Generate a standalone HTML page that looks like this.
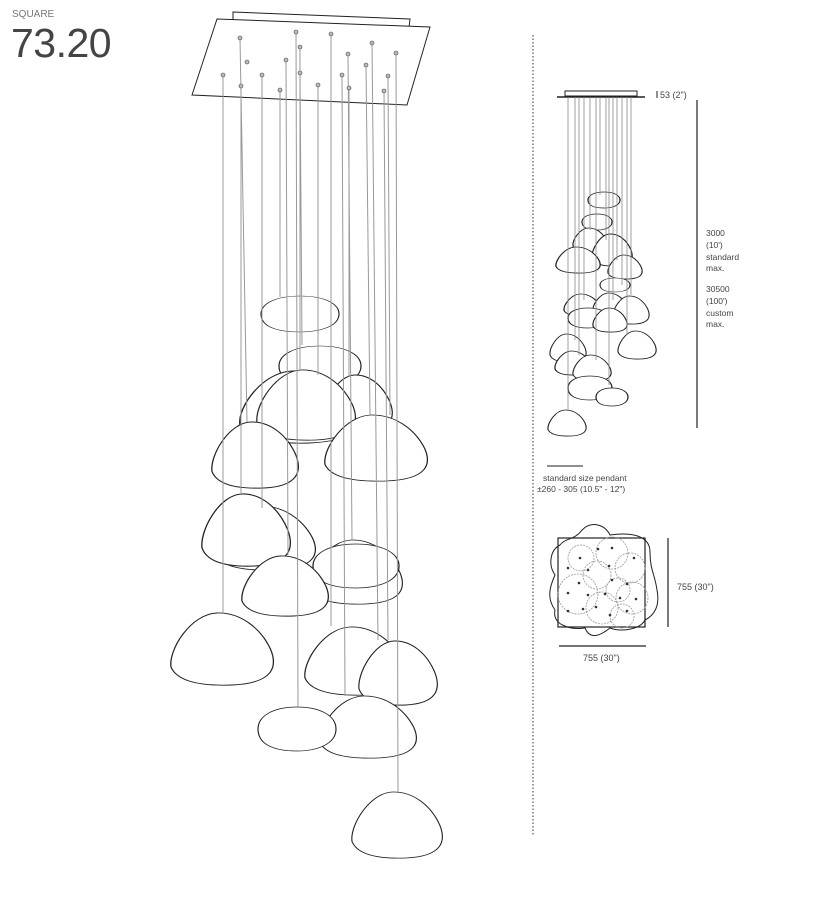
<!DOCTYPE html>
<html><head><meta charset="utf-8"><style>
html,body{margin:0;padding:0;background:#fff;}
svg{display:block;font-family:"Liberation Sans",sans-serif;}
</style></head><body>
<svg width="826" height="904" viewBox="0 0 826 904" xmlns="http://www.w3.org/2000/svg">
<defs>
<path id="tri" d="M-0.1,-1 C0.35,-1.02 0.75,-0.6 0.95,0 C1.1,0.5 1,0.95 0.2,1 C-0.2,1.02 -0.85,1 -1,0.5 C-1.05,0 -0.6,-0.98 -0.1,-1Z"/>
<path id="flat" d="M0,-1 C0.6,-1 1,-0.6 1,0 C1,0.7 0.5,1 0,1 C-0.6,1 -1,0.7 -1,0 C-1,-0.6 -0.6,-1 0,-1Z"/>
</defs>
<text x="12" y="17" font-size="10" fill="#777">SQUARE</text>
<text x="11" y="57" font-size="41" fill="#444" style="letter-spacing:-0.5px">73.20</text>

<!-- canopy -->
<g stroke="#222" fill="#fff" stroke-width="1">
<polygon points="233,12 410,19 409,27 233,20"/>
<polygon points="217,19 430,27 407,105 192,95"/>
</g>
<!-- pendants -->
<g stroke="#222" fill="#fff">
<use href="#flat" transform="translate(300,314) scale(39,18)" style="stroke-width:0.03"/>
<use href="#flat" transform="translate(320,366) scale(41,20)" style="stroke-width:0.03"/>
<use href="#tri" transform="translate(298,407) scale(58,36)" style="stroke-width:0.025"/>
<use href="#tri" transform="translate(358,403) scale(34,28)" style="stroke-width:0.035"/>
<use href="#tri" transform="translate(306,405) scale(49,35)" style="stroke-width:0.025"/>
<use href="#tri" transform="translate(255,455) scale(43,33)" style="stroke-width:0.03"/>
<use href="#tri" transform="translate(376,448) scale(51,33)" style="stroke-width:0.025"/>
<use href="#tri" transform="translate(265,538) scale(50,32)" style="stroke-width:0.025"/>
<use href="#tri" transform="translate(246,530) scale(44,36)" style="stroke-width:0.03"/>
<use href="#tri" transform="translate(356,572) scale(46,32)" style="stroke-width:0.025"/>
<use href="#flat" transform="translate(356,566) scale(43,22)" style="stroke-width:0.03"/>
<use href="#tri" transform="translate(285,586) scale(43,30)" style="stroke-width:0.03"/>
<use href="#tri" transform="translate(222,649) scale(51,36)" style="stroke-width:0.025"/>
<use href="#tri" transform="translate(355,661) scale(50,34)" style="stroke-width:0.025"/>
<use href="#tri" transform="translate(398,673) scale(39,32)" style="stroke-width:0.03"/>
<use href="#tri" transform="translate(368,727) scale(48,31)" style="stroke-width:0.025"/>
<use href="#flat" transform="translate(297,729) scale(39,22)" style="stroke-width:0.03"/>
<use href="#tri" transform="translate(397,825) scale(45,33)" style="stroke-width:0.025"/>
</g>
<!-- wires -->
<g stroke="#999" stroke-width="1">
<line x1="223" y1="75" x2="223" y2="614"/>
<line x1="241" y1="86" x2="241" y2="494"/>
<line x1="240" y1="38" x2="247" y2="422"/>
<line x1="262" y1="75" x2="262" y2="508"/>
<line x1="280" y1="90" x2="280" y2="297"/>
<line x1="286" y1="60" x2="288" y2="555"/>
<line x1="296" y1="32" x2="298" y2="707"/>
<line x1="300" y1="47" x2="300" y2="370"/>
<line x1="300" y1="73" x2="302" y2="345"/>
<line x1="318" y1="85" x2="318" y2="375"/>
<line x1="331" y1="34" x2="331" y2="626"/>
<line x1="342" y1="75" x2="345" y2="696"/>
<line x1="348" y1="54" x2="352" y2="540"/>
<line x1="349" y1="88" x2="349" y2="377"/>
<line x1="366" y1="65" x2="370" y2="415"/>
<line x1="372" y1="43" x2="378" y2="640"/>
<line x1="384" y1="91" x2="388" y2="640"/>
<line x1="388" y1="76" x2="390" y2="415"/>
<line x1="396" y1="53" x2="398" y2="792"/>
</g>
<g fill="#bbb" stroke="#444" stroke-width="0.6">
<circle cx="240" cy="38" r="2"/><circle cx="296" cy="32" r="2"/><circle cx="331" cy="34" r="2"/><circle cx="372" cy="43" r="2"/><circle cx="348" cy="54" r="2"/><circle cx="300" cy="47" r="2"/><circle cx="247" cy="62" r="2"/><circle cx="286" cy="60" r="2"/><circle cx="396" cy="53" r="2"/><circle cx="223" cy="75" r="2"/><circle cx="262" cy="75" r="2"/><circle cx="342" cy="75" r="2"/><circle cx="366" cy="65" r="2"/><circle cx="388" cy="76" r="2"/><circle cx="241" cy="86" r="2"/><circle cx="280" cy="90" r="2"/><circle cx="318" cy="85" r="2"/><circle cx="349" cy="88" r="2"/><circle cx="384" cy="91" r="2"/><circle cx="300" cy="73" r="2"/>
</g>

<!-- dotted separator -->
<line x1="533" y1="35" x2="533" y2="836" stroke="#555" stroke-width="1.2" stroke-dasharray="1.5,2"/>

<!-- elevation -->
<rect x="565" y="91" width="72" height="5" fill="#fff" stroke="#222" stroke-width="1"/>
<line x1="557" y1="97" x2="645" y2="97" stroke="#222" stroke-width="1.5"/>
<g stroke="#222" fill="#fff">
<use href="#flat" transform="translate(604,200) scale(16,8)" style="stroke-width:0.08"/>
<use href="#flat" transform="translate(597,222) scale(15,8)" style="stroke-width:0.08"/>
<use href="#tri" transform="translate(590,240) scale(17,12)" style="stroke-width:0.07"/>
<use href="#tri" transform="translate(612,250) scale(20,16)" style="stroke-width:0.06"/>
<use href="#tri" transform="translate(578,260) scale(22,13)" style="stroke-width:0.06"/>
<use href="#tri" transform="translate(625,267) scale(17,12)" style="stroke-width:0.07"/>
<use href="#flat" transform="translate(615,285) scale(15,7)" style="stroke-width:0.08"/>
<use href="#tri" transform="translate(582,305) scale(18,11)" style="stroke-width:0.07"/>
<use href="#tri" transform="translate(610,305) scale(17,12)" style="stroke-width:0.07"/>
<use href="#tri" transform="translate(631,310) scale(18,14)" style="stroke-width:0.06"/>
<use href="#flat" transform="translate(588,318) scale(20,10)" style="stroke-width:0.07"/>
<use href="#tri" transform="translate(610,320) scale(17,12)" style="stroke-width:0.07"/>
<use href="#tri" transform="translate(637,345) scale(19,14)" style="stroke-width:0.06"/>
<use href="#tri" transform="translate(568,348) scale(18,14)" style="stroke-width:0.06"/>
<use href="#tri" transform="translate(573,363) scale(18,12)" style="stroke-width:0.07"/>
<use href="#tri" transform="translate(592,368) scale(19,13)" style="stroke-width:0.06"/>
<use href="#flat" transform="translate(590,388) scale(22,12)" style="stroke-width:0.06"/>
<use href="#flat" transform="translate(612,397) scale(16,9)" style="stroke-width:0.08"/>
<use href="#tri" transform="translate(567,423) scale(19,13)" style="stroke-width:0.06"/>
</g>
<g stroke="#888" stroke-width="0.8">
<line x1="568" y1="97" x2="568" y2="410"/><line x1="575" y1="97" x2="575" y2="340"/><line x1="579" y1="97" x2="579" y2="355"/><line x1="584" y1="97" x2="584" y2="300"/><line x1="590" y1="97" x2="590" y2="230"/><line x1="596" y1="97" x2="596" y2="360"/><line x1="600" y1="97" x2="600" y2="195"/><line x1="606" y1="97" x2="606" y2="240"/><line x1="609" y1="97" x2="609" y2="385"/><line x1="613" y1="97" x2="613" y2="300"/><line x1="617" y1="97" x2="617" y2="260"/><line x1="622" y1="97" x2="622" y2="285"/><line x1="627" y1="97" x2="627" y2="335"/><line x1="631" y1="97" x2="631" y2="295"/>
</g>
<line x1="657" y1="91" x2="657" y2="98" stroke="#222"/>
<text x="660" y="98" font-size="9" fill="#444">53 (2")</text>
<line x1="697" y1="100" x2="697" y2="428" stroke="#222" stroke-width="1.2"/>
<g font-size="8.5" fill="#444">
<text x="706" y="236">3000</text><text x="706" y="248">(10')</text><text x="706" y="260">standard</text><text x="706" y="271">max.</text>
<text x="706" y="292">30500</text><text x="706" y="304">(100')</text><text x="706" y="316">custom</text><text x="706" y="327">max.</text>
</g>
<line x1="547" y1="466" x2="583" y2="466" stroke="#222"/>
<text x="543" y="481" font-size="8.5" fill="#444">standard size pendant</text>
<text x="537" y="492" font-size="8.5" fill="#444">±260 - 305 (10.5" - 12")</text>

<!-- plan -->
<path d="M582,530 C592,520 605,525 610,535 C630,532 650,535 650,552 C650,570 655,575 657,590 C660,605 655,615 645,620 C640,630 620,632 610,628 C600,636 590,640 585,628 C570,630 552,625 555,610 C548,600 548,590 555,575 C548,565 550,550 560,545 C565,538 575,540 582,530Z" fill="none" stroke="#222" stroke-width="1"/>
<rect x="558" y="538" width="87" height="89" fill="none" stroke="#222" stroke-width="1.2"/>
<g fill="none" stroke="#999" stroke-width="0.8" stroke-dasharray="2,1">
<circle cx="581" cy="558" r="13"/><circle cx="612" cy="553" r="16"/><circle cx="630" cy="568" r="15"/><circle cx="578" cy="594" r="20"/><circle cx="597" cy="575" r="14"/><circle cx="602" cy="608" r="16"/><circle cx="618" cy="590" r="12"/><circle cx="632" cy="598" r="16"/><circle cx="622" cy="616" r="12"/>
</g>
<g fill="#333">
<circle cx="580" cy="558" r="1.3"/><circle cx="612" cy="548" r="1.3"/><circle cx="634" cy="558" r="1.3"/><circle cx="598" cy="549" r="1.3"/><circle cx="568" cy="568" r="1.3"/><circle cx="588" cy="570" r="1.3"/><circle cx="609" cy="566" r="1.3"/><circle cx="579" cy="583" r="1.3"/><circle cx="612" cy="580" r="1.3"/><circle cx="627" cy="584" r="1.3"/><circle cx="568" cy="593" r="1.3"/><circle cx="588" cy="595" r="1.3"/><circle cx="605" cy="594" r="1.3"/><circle cx="620" cy="598" r="1.3"/><circle cx="636" cy="599" r="1.3"/><circle cx="583" cy="609" r="1.3"/><circle cx="596" cy="607" r="1.3"/><circle cx="568" cy="611" r="1.3"/><circle cx="610" cy="615" r="1.3"/><circle cx="627" cy="611" r="1.3"/>
</g>
<line x1="668" y1="538" x2="668" y2="627" stroke="#222" stroke-width="1.2"/>
<text x="677" y="590" font-size="9" fill="#444">755 (30")</text>
<line x1="559" y1="646" x2="646" y2="646" stroke="#222" stroke-width="1.2"/>
<text x="583" y="661" font-size="9" fill="#444">755 (30")</text>
</svg>
</body></html>
